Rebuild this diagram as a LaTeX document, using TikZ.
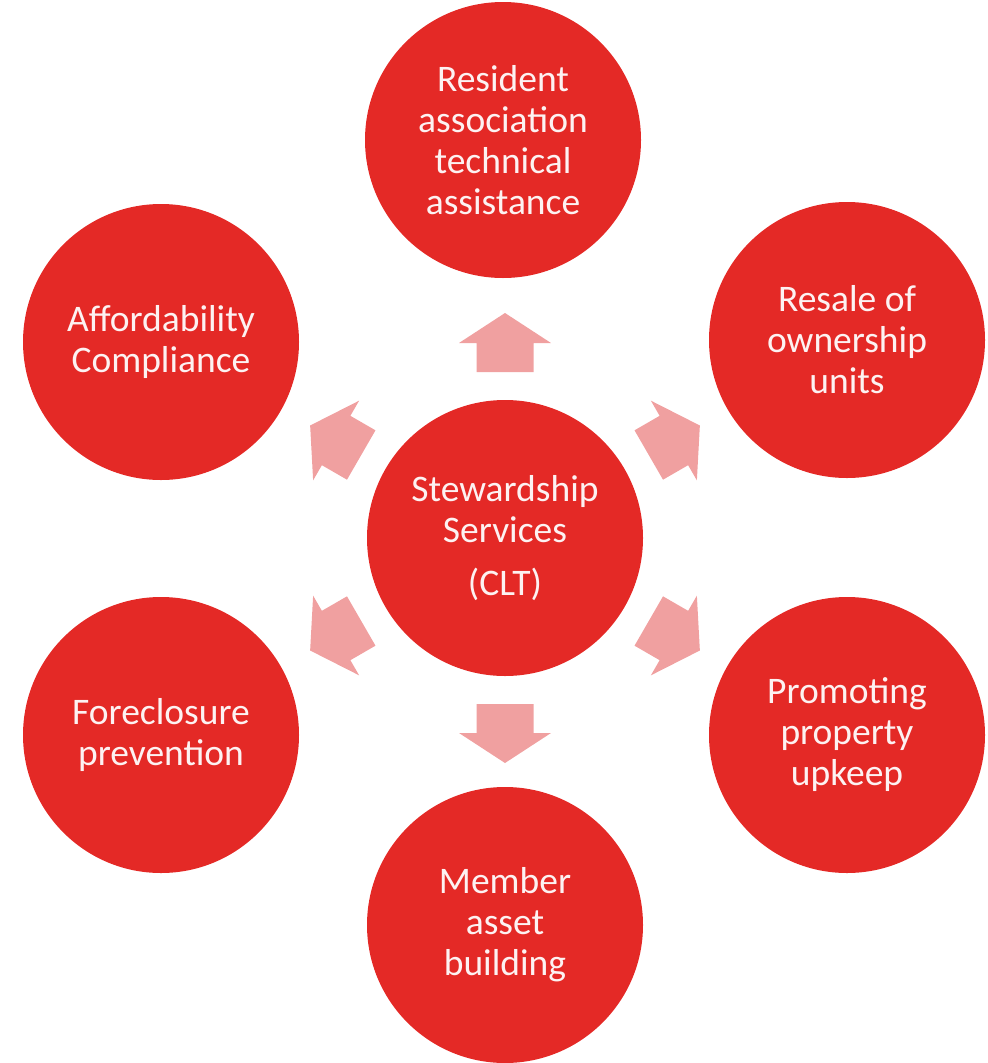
\documentclass[tikz,border=0pt]{standalone}
\usepackage{fontspec}
\setmainfont{Carlito}
\definecolor{ringred}{RGB}{228,41,38}
\definecolor{arrowpink}{RGB}{240,160,160}
\definecolor{labelwhite}{RGB}{253,242,242}

\begin{document}
\begin{tikzpicture}[x=1pt,y=-1pt,
  bubble/.style={circle, fill=ringred, draw=none, minimum size=276pt,
    inner sep=0pt, align=center, text=labelwhite,
    font=\fontsize{37.5}{41}\selectfont},
  blockarrow/.style={fill=arrowpink, draw=none}]
\useasboundingbox (0,0) rectangle (988,1063);

% hub
\node[bubble] (hub) at (505,538) {Stewardship\\Services\\[12pt](CLT)};

% surrounding services
\node[bubble] (resident)  at (503,140) {Resident\\association\\technical\\assistance};
\node[bubble] (resale)    at (847,340) {Resale of\\ownership\\units};
\node[bubble] (upkeep)    at (847,735) {Promoting\\property\\upkeep};
\node[bubble] (member)    at (505,925) {Member\\asset\\building};
\node[bubble] (foreclose) at (161,735) {Foreclosure\\prevention};
\node[bubble] (afford)    at (161,342) {Affordability\\Compliance};

% block arrows radiating from the hub
\foreach \a in {90,30,-30,-90,-150,150}
  \fill[blockarrow, shift={(hub.center)}, rotate=\a]
    (166pt,-28.5pt) -- (195pt,-28.5pt) -- (195pt,-46pt) -- (225pt,0pt)
    -- (195pt,46pt) -- (195pt,28.5pt) -- (166pt,28.5pt) -- cycle;
\end{tikzpicture}
\end{document}
